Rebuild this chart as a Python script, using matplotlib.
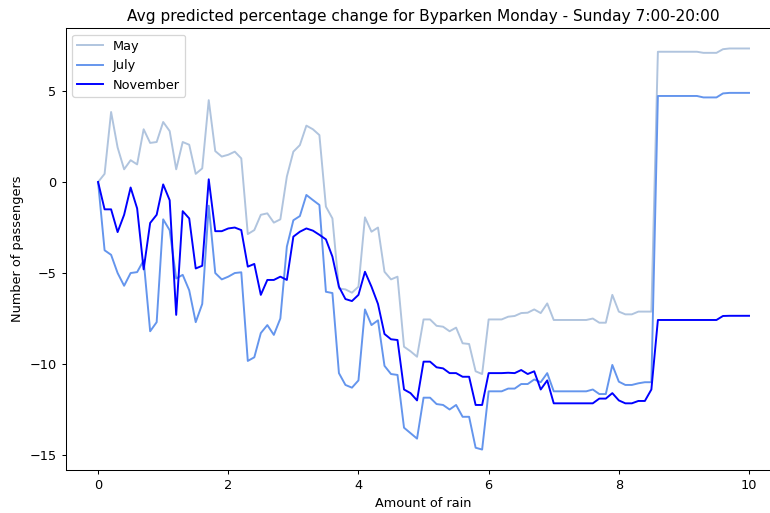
import numpy as np
import matplotlib
matplotlib.use('Agg')
import matplotlib.pyplot as plt

rain = np.round(np.arange(0, 10.01, 0.1), 1)

may = [0, 0.45, 3.85, 1.9, 0.7, 1.2, 0.97, 2.9, 2.15, 2.2,
	3.3, 2.8, 0.7, 2.2, 2.05, 0.45, 0.75, 4.5, 1.7, 1.4,
	1.5, 1.67, 1.3, -2.86, -2.64, -1.8, -1.72, -2.23, -2.05, 0.3,
	1.67, 2.03, 3.1, 2.9, 2.58, -1.35, -2.0, -5.85, -5.9, -6.08,
	-5.75, -1.94, -2.73, -2.5, -4.93, -5.35, -5.2, -9.05, -9.3, -9.6,
	-7.55, -7.55, -7.9, -7.95, -8.2, -8.0, -8.86, -8.9, -10.4, -10.55,
	-7.55, -7.55, -7.55, -7.4, -7.36, -7.2, -7.18, -7.0, -7.2, -6.67,
	-7.58, -7.58, -7.58, -7.58, -7.58, -7.58, -7.5, -7.73, -7.73, -6.2,
	-7.12, -7.27, -7.27, -7.12, -7.12, -7.12, 7.16, 7.16, 7.16, 7.16,
	7.16, 7.16, 7.16, 7.1, 7.1, 7.1, 7.3, 7.34, 7.34, 7.34, 7.34]

july = [0, -3.75, -4.0, -5.0, -5.7, -5.0, -4.95, -4.3, -8.2, -7.7,
	-2.05, -2.65, -5.3, -5.1, -5.95, -7.7, -6.7, -1.3, -5.0, -5.35,
	-5.2, -5.0, -4.96, -9.83, -9.63, -8.3, -7.86, -8.4, -7.5, -3.55,
	-2.1, -1.87, -0.71, -0.99, -1.26, -6.03, -6.1, -10.5, -11.15, -11.3,
	-10.9, -7.0, -7.86, -7.6, -10.1, -10.55, -10.6, -13.5, -13.8, -14.1,
	-11.85, -11.85, -12.2, -12.25, -12.5, -12.25, -12.9, -12.9, -14.6, -14.7,
	-11.5, -11.5, -11.5, -11.35, -11.35, -11.1, -11.1, -10.85, -11.0, -10.5,
	-11.5, -11.5, -11.5, -11.5, -11.5, -11.5, -11.4, -11.65, -11.65, -10.05,
	-10.97, -11.15, -11.15, -11.06, -11.0, -11.0, 4.73, 4.73, 4.73, 4.73,
	4.73, 4.73, 4.73, 4.65, 4.65, 4.65, 4.87, 4.9, 4.9, 4.9, 4.9]

november = [0, -1.5, -1.5, -2.75, -1.8, -0.3, -1.45, -4.8, -2.25, -1.8,
	-0.13, -1.0, -7.3, -1.6, -2.0, -4.75, -4.6, 0.15, -2.7, -2.7,
	-2.55, -2.5, -2.64, -4.65, -4.5, -6.2, -5.38, -5.38, -5.2, -5.38,
	-3.0, -2.73, -2.55, -2.67, -2.9, -3.15, -4.1, -5.75, -6.43, -6.54,
	-6.2, -4.93, -5.75, -6.7, -8.35, -8.64, -8.68, -11.4, -11.6, -12.0,
	-9.87, -9.87, -10.18, -10.24, -10.5, -10.5, -10.7, -10.7, -12.25, -12.25,
	-10.5, -10.5, -10.5, -10.48, -10.5, -10.33, -10.55, -10.4, -11.4, -10.9,
	-12.16, -12.16, -12.16, -12.16, -12.16, -12.16, -12.16, -11.9, -11.9, -11.6,
	-12.0, -12.16, -12.16, -12.03, -12.03, -11.4, -7.58, -7.58, -7.58, -7.58,
	-7.58, -7.58, -7.58, -7.58, -7.58, -7.58, -7.36, -7.35, -7.35, -7.35, -7.35]

# reference looks like a downscaled render, so use a lower dpi
dpi = 92.5
fig = plt.figure(figsize=(771/dpi, 513/dpi), dpi=dpi)
ax = fig.add_axes([0.085, 0.0846, 0.9287, 0.86])

ax.plot(rain, may, color='lightsteelblue', label='May')
ax.plot(rain, july, color='cornflowerblue', label='July')
ax.plot(rain, november, color='blue', label='November')

ax.set_title("Avg predicted percentage change for Byparken Monday - Sunday 7:00-20:00")
ax.set_xlabel("Amount of rain")
ax.set_ylabel("Number of passengers")
ax.legend(loc='upper left')

fig.savefig('out.png', dpi=dpi)
